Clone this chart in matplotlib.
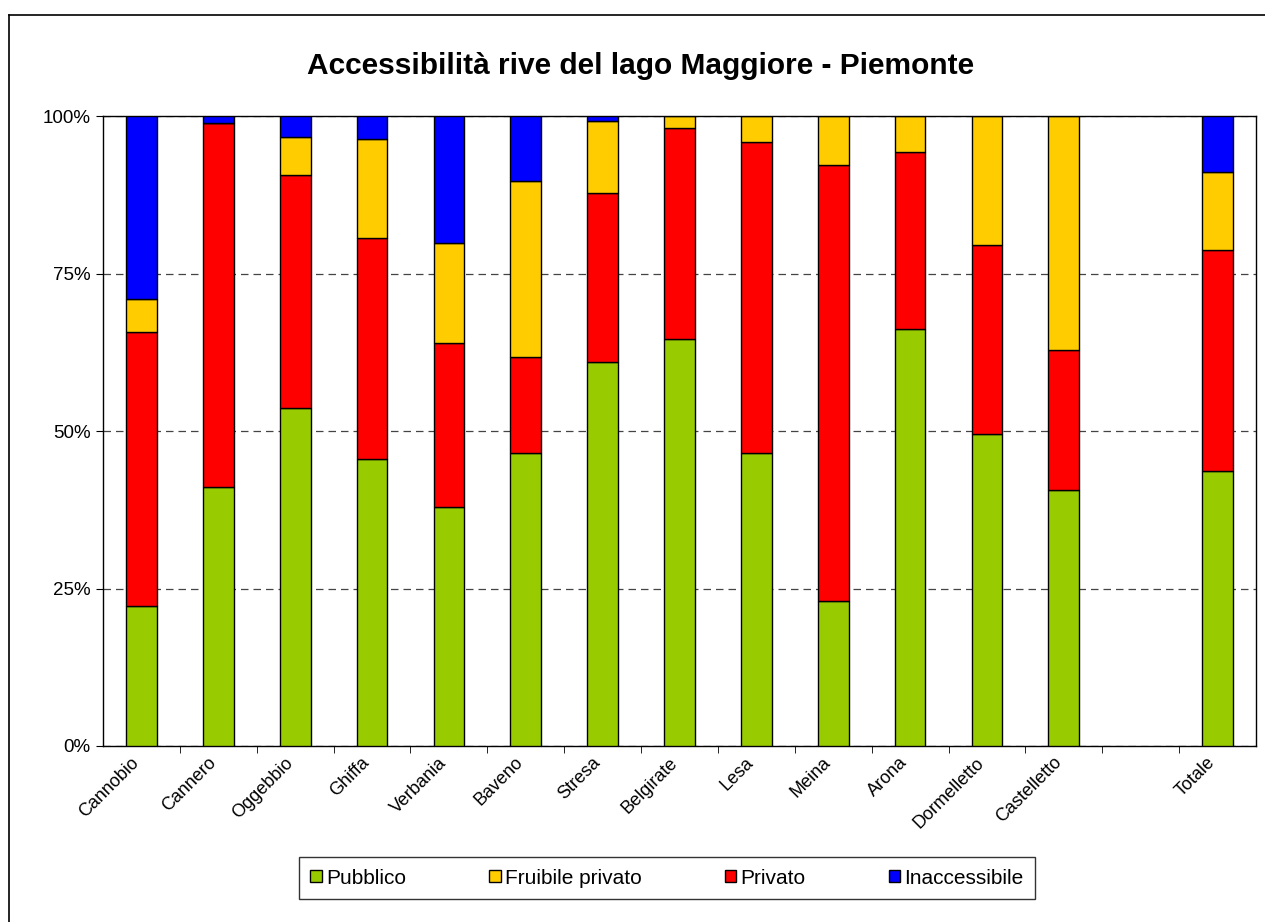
import numpy as np
import matplotlib
matplotlib.use("Agg")
import matplotlib.pyplot as plt
import matplotlib.transforms as mtransforms
from matplotlib.patches import Patch
from matplotlib.lines import Line2D

plt.rcParams['font.family'] = ['Liberation Sans', 'DejaVu Sans']

# data (percent of shoreline length)
places = ['Cannobio', 'Cannero', 'Oggebbio', 'Ghiffa', 'Verbania', 'Baveno', 'Stresa',
          'Belgirate', 'Lesa', 'Meina', 'Arona', 'Dormelletto', 'Castelletto', 'Totale']
pubblico = [22.2, 41.1, 53.7, 45.5, 38.0, 46.5, 60.9, 64.6, 46.5, 23.0, 66.2, 49.6, 40.6, 43.7]
privato = [43.5, 57.8, 36.9, 35.1, 25.9, 15.3, 26.9, 33.5, 49.4, 69.2, 28.1, 30.0, 22.2, 35.1]
fruibile = [5.3, 0.0, 6.0, 15.7, 15.9, 27.9, 11.4, 1.9, 4.1, 7.8, 5.7, 20.4, 37.2, 12.3]
inaccessibile = [29.0, 1.1, 3.4, 3.7, 20.2, 10.3, 0.8, 0.0, 0.0, 0.0, 0.0, 0.0, 0.0, 8.9]

c_pub = '#99CC00'
c_fru = '#FFCC00'
c_pri = '#FF0000'
c_ina = '#0000FF'

# Totale sits one empty slot after the towns
x = np.r_[np.arange(len(places) - 1), len(places)]

fig = plt.figure(figsize=(12.65, 9.22), dpi=100)
ax = fig.add_axes([103 / 1265, 1 - 746 / 922, (1256 - 103) / 1265, (746 - 116) / 922])

bottom = np.zeros(len(places))
for vals, col in [(pubblico, c_pub), (privato, c_pri), (fruibile, c_fru), (inaccessibile, c_ina)]:
    vals = np.array(vals)
    ax.bar(x, vals, 0.4, bottom=bottom, color=col, edgecolor='black', linewidth=1, zorder=3)
    bottom += vals

ax.set_xlim(-0.5, len(places) + 0.5)
ax.set_ylim(0, 100)
ax.set_yticks([0, 25, 50, 75, 100])
ax.set_yticklabels(['0%', '25%', '50%', '75%', '100%'], fontsize=13.5)
ax.yaxis.grid(True, linestyle=(0, (6, 4)), color='#444444', linewidth=0.9, zorder=0)

ax.set_xticks(x)
ax.set_xticklabels(places, rotation=45, ha='right', rotation_mode='anchor', fontsize=13)
ax.tick_params(axis='x', which='major', length=0, pad=8)
ax.set_xticks(np.arange(0.5, len(places)), minor=True)
ax.tick_params(axis='x', which='minor', length=5, direction='out')
ax.tick_params(axis='y', length=5, direction='out', pad=4)
shift = mtransforms.ScaledTranslation(-11 / 100, 3 / 100, fig.dpi_scale_trans)
for lab in ax.get_xticklabels():
    lab.set_transform(lab.get_transform() + shift)
for s in ax.spines.values():
    s.set_linewidth(1)

fig.text(641 / 1265, 1 - 66 / 922, 'Accessibilità rive del lago Maggiore - Piemonte',
         ha='center', va='center', fontsize=21.5, fontweight='bold')

handles = [Patch(facecolor=c, edgecolor='black', linewidth=1) for c in (c_pub, c_fru, c_pri, c_ina)]
leg = fig.legend(handles, ['Pubblico', 'Fruibile privato', 'Privato', 'Inaccessibile'],
                 loc='center', bbox_to_anchor=(667 / 1265, 1 - 878 / 922), ncol=4,
                 fontsize=15, frameon=True, fancybox=False, edgecolor='black',
                 handlelength=0.55, handleheight=0.55, handletextpad=0.2, columnspacing=4.0,
                 borderpad=0.55, borderaxespad=0.0)
leg.get_frame().set_linewidth(1)

# outer chart border (left and top edges visible)
fig.add_artist(Line2D([9 / 1265, 9 / 1265], [0, 1 - 15 / 922], transform=fig.transFigure, color='black', lw=1.2))
fig.add_artist(Line2D([9 / 1265, 1], [1 - 15 / 922, 1 - 15 / 922], transform=fig.transFigure, color='black', lw=1.2))

fig.savefig("out.png", dpi=100)
